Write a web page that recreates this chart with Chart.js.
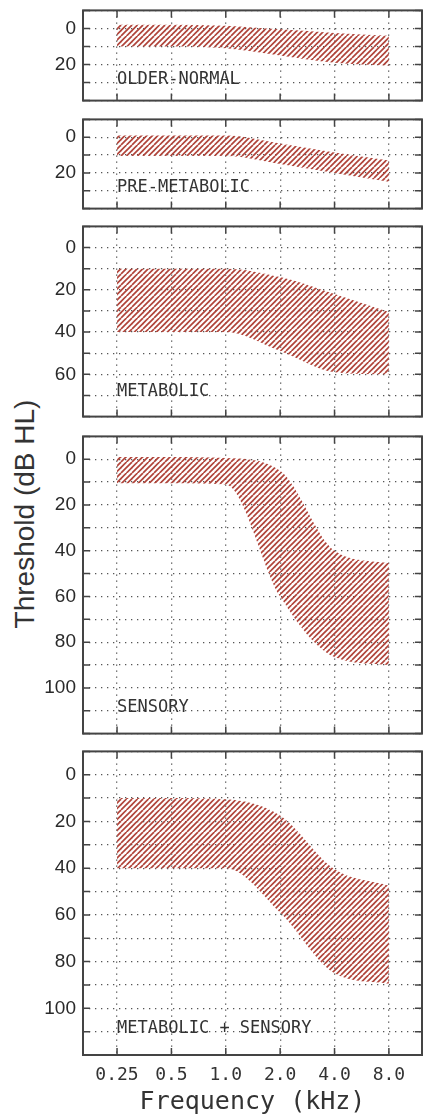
<!DOCTYPE html>
<html>
<head>
<meta charset="utf-8">
<script src="https://cdn.jsdelivr.net/npm/chart.js@4.4.1/dist/chart.umd.min.js"></script>
<style>
  html, body { margin: 0; padding: 0; background: #fff; }
  #wrap { position: relative; width: 424px; height: 1118px; overflow: hidden; }
  #wrap canvas { position: absolute; left: 0; }
  #ytitle {
    position: absolute; left: 25px; top: 514px;
    transform: translate(-50%, -50%) rotate(-90deg);
    font: 28px "Liberation Sans", Arial, sans-serif; color: #333; white-space: nowrap;
  }
</style>
</head>
<body>
<div id="wrap"><div id="ytitle">Threshold (dB HL)</div></div>
<script>
// audiometric frequencies (kHz) and their labels
const freqs = [0.25, 0.5, 1, 2, 4, 8];
const freqLabels = ['0.25', '0.5', '1.0', '2.0', '4.0', '8.0'];
const groups = ['OLDER-NORMAL', 'PRE-METABOLIC', 'METABOLIC', 'SENSORY', 'METABOLIC + SENSORY'];
const dbMax = [40, 40, 80, 120, 120];

// band edges in dB HL (top = best thresholds, bottom = worst)
const olderNormalTop = [-2, -2, -1.5, 0.5, 2.5, 4];
const olderNormalBottom = [10, 10, 11, 15, 19, 20.5];
const preMetabolicTop = [-1, -1, -1, 3.5, 8.5, 13];
const preMetabolicBottom = [10.5, 10.5, 10.5, 15, 20, 25];
const metabolicTop = [10, 10, 10, 14, 22, 30.5];
const metabolicBottom = [40, 40, 40, 49, 59, 60];
const sensoryTop = [-1, -1, -0.5, 5, 40, 45.5];
const sensoryBottom = [10.5, 10.5, 11, 60, 86.5, 90];
const metSensTop = [10, 10, 10.5, 17.5, 40.5, 47.5];
const metSensBottom = [40, 40, 40, 59, 85, 89.5];

const tops = [olderNormalTop, preMetabolicTop, metabolicTop, sensoryTop, metSensTop];
const bottoms = [olderNormalBottom, preMetabolicBottom, metabolicBottom, sensoryBottom, metSensBottom];

// plot area [top, bottom] of each panel on the page
const boxes = [[4, 107], [113, 215], [220, 423], [430, 740], [745, 1055]];

function makeHatch() {
  const s = 11;
  const c = document.createElement('canvas');
  c.width = s; c.height = s;
  const g = c.getContext('2d');
  g.strokeStyle = '#b0443a';
  g.lineWidth = 1.7;
  for (let k = -s; k <= 2 * s; k += s / 2) {
    g.beginPath();
    g.moveTo(k, s);
    g.lineTo(k + s, 0);
    g.stroke();
  }
  return g.createPattern(c, 'repeat');
}
const hatch = makeHatch();

const framePlugin = {
  id: 'frame',
  afterDraw(chart, args, opts) {
    const { ctx, chartArea: a, scales: { x, y } } = chart;
    ctx.save();
    ctx.strokeStyle = '#444';
    ctx.lineWidth = 1.5;
    ctx.beginPath();
    x.ticks.forEach(t => {
      const px = x.getPixelForValue(t.value);
      ctx.moveTo(px, a.top); ctx.lineTo(px, a.top + 7);
      ctx.moveTo(px, a.bottom); ctx.lineTo(px, a.bottom - 7);
    });
    y.ticks.forEach(t => {
      const py = y.getPixelForValue(t.value);
      ctx.moveTo(a.left, py); ctx.lineTo(a.left + 7, py);
      ctx.moveTo(a.right, py); ctx.lineTo(a.right - 7, py);
    });
    ctx.stroke();
    ctx.lineWidth = 2;
    ctx.strokeRect(a.left, a.top, a.right - a.left, a.bottom - a.top);
    ctx.fillStyle = '#333';
    ctx.font = '17px "DejaVu Sans Mono"';
    ctx.textBaseline = 'alphabetic';
    ctx.fillText(opts.text, x.getPixelForValue(freqs[0]), y.getPixelForValue(y.max - 10) + 1);
    ctx.restore();
  }
};

const wrap = document.getElementById('wrap');

boxes.forEach(([t, b], i) => {
  const last = i === boxes.length - 1;
  const cv = document.createElement('canvas');
  const top = t - 12;
  const h = last ? 1118 - top : (b - t) + 24;
  cv.width = 424; cv.height = h;
  cv.style.top = top + 'px';
  wrap.appendChild(cv);

  const band = arr => freqs.map((f, k) => ({ x: f, y: arr[k] }));

  new Chart(cv, {
    type: 'line',
    data: {
      datasets: [
        { data: band(tops[i]), fill: '+1', backgroundColor: hatch, borderColor: 'rgba(0,0,0,0)', borderWidth: 0, pointRadius: 0, cubicInterpolationMode: 'monotone' },
        { data: band(bottoms[i]), fill: false, borderColor: 'rgba(0,0,0,0)', borderWidth: 0, pointRadius: 0, cubicInterpolationMode: 'monotone' }
      ]
    },
    options: {
      responsive: false,
      animation: false,
      devicePixelRatio: 1,
      layout: { padding: { top: 12, bottom: last ? 0 : 12, left: 0, right: 2 } },
      plugins: { legend: { display: false }, tooltip: { enabled: false }, frame: { text: groups[i] } },
      scales: {
        x: {
          type: 'logarithmic',
          min: 0.162, max: 12.2,
          afterBuildTicks: s => { s.ticks = freqs.map(v => ({ value: v })); },
          afterFit: s => { s.height = last ? 63 : 0; },
          grid: { color: '#555', lineWidth: 1.3, drawTicks: false },
          border: { display: false, dash: [1.3, 4.7] },
          ticks: {
            display: last, padding: 10, autoSkip: false, maxRotation: 0, color: '#333',
            font: { family: 'DejaVu Sans Mono', size: 18 },
            callback: (v, k) => freqLabels[k]
          },
          title: {
            display: last, text: 'Frequency (kHz)', color: '#333',
            font: { family: 'DejaVu Sans Mono', size: 25 }, padding: { top: 0, bottom: 1 }
          }
        },
        y: {
          type: 'linear', reverse: true, min: -10, max: dbMax[i],
          afterFit: s => { s.width = 83; },
          grid: { color: '#555', lineWidth: 1.3, drawTicks: false },
          border: { display: false, dash: [1.3, 4.7] },
          ticks: {
            stepSize: 10, autoSkip: false, padding: 7, color: '#2a2a2a',
            font: { family: 'Liberation Sans', size: 19 },
            callback: v => (v >= 0 && v < dbMax[i] && v % 20 === 0) ? v : ''
          }
        }
      }
    },
    plugins: [framePlugin]
  });
});
</script>
</body>
</html>
